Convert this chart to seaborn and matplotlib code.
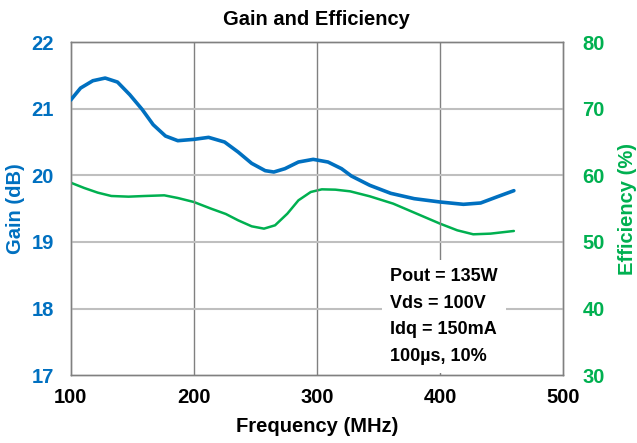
import pandas as pd
import matplotlib.pyplot as plt
import seaborn as sns

# gain (dB)
gain_freq = [100, 108, 118, 128, 138, 148, 158, 167, 177, 187, 200, 212, 225, 236,
             247, 258, 265, 274, 285, 297, 309, 320, 328, 343, 360, 379, 400, 419,
             433, 446, 460]
gain_db = [21.13, 21.31, 21.42, 21.46, 21.40, 21.21, 20.99, 20.76, 20.59, 20.52, 20.54,
           20.57, 20.50, 20.35, 20.18, 20.07, 20.05, 20.10, 20.20, 20.24, 20.20, 20.10,
           19.99, 19.85, 19.73, 19.65, 19.60, 19.565, 19.585, 19.675, 19.77]

# efficiency (%)
eff_freq = [100, 111, 122, 133, 147, 160, 176, 187, 200, 214, 226, 236, 247, 257, 266,
            276, 285, 295, 304, 315, 327, 343, 362, 381, 400, 414, 427, 441, 460]
eff_pct = [58.9, 58.1, 57.4, 56.9, 56.8, 56.9, 57.0, 56.6, 56.0, 55.0, 54.2, 53.25,
           52.35, 52.0, 52.5, 54.25, 56.25, 57.5, 57.9, 57.85, 57.6, 56.85, 55.75, 54.25,
           52.75, 51.75, 51.15, 51.25, 51.65]

x_ticks = [100, 200, 300, 400, 500]
gain_ticks = [17, 18, 19, 20, 21, 22]
eff_ticks = [30, 40, 50, 60, 70, 80]

blue = '#0070C0'
green = '#00B050'

sns.set_style('white')
plt.rcParams['font.family'] = ['Liberation Sans', 'DejaVu Sans']
plt.rcParams['font.weight'] = 'bold'
plt.rcParams['text.color'] = 'black'
plt.rcParams['axes.labelcolor'] = 'black'
plt.rcParams['xtick.color'] = 'black'

df_gain = pd.DataFrame({'freq': gain_freq, 'gain': gain_db})
df_eff = pd.DataFrame({'freq': eff_freq, 'eff': eff_pct})

fig, ax = plt.subplots(figsize=(6.37, 4.43), dpi=100)
fig.subplots_adjust(left=0.111, right=0.884, top=0.905, bottom=0.153)

ax2 = ax.twinx()

# grille : verticales foncées, horizontales claires
for xv in x_ticks[1:-1]:
    ax.axvline(xv, color='#808080', lw=1, zorder=0)
for yv in gain_ticks[1:-1]:
    ax.axhline(yv, color='#BFBFBF', lw=1.5, zorder=0)

sns.lineplot(data=df_gain, x='freq', y='gain', ax=ax, color=blue, lw=2.6, zorder=3)
sns.lineplot(data=df_eff, x='freq', y='eff', ax=ax2, color=green, lw=1.8, zorder=3)

ax.set_xlim(100, 500)
ax.set_ylim(17, 22)
ax2.set_ylim(30, 80)
ax.set_xticks(x_ticks)
ax.set_yticks(gain_ticks)
ax2.set_yticks(eff_ticks)

ax.tick_params(axis='x', labelsize=14.5, length=0, pad=9, labelcolor='black')
ax.tick_params(axis='y', labelsize=14.5, length=0, pad=12, colors=blue)
ax2.tick_params(axis='y', labelsize=14.5, length=0, pad=14, colors=green)
for lab in ax.get_xticklabels() + ax.get_yticklabels() + ax2.get_yticklabels():
    lab.set_fontweight('bold')

for a in (ax, ax2):
    for s in a.spines.values():
        s.set_color('#808080')
        s.set_linewidth(1)

ax.set_title('Gain and Efficiency', fontsize=14.5, fontweight='bold', pad=12.5, color='black')
ax.set_xlabel('Frequency (MHz)', fontsize=14.5, fontweight='bold', labelpad=7.5, color='black')
ax.set_ylabel('Gain (dB)', fontsize=14.5, fontweight='bold', color=blue)
ax2.set_ylabel('Efficiency (%)', fontsize=14.5, fontweight='bold', color=green)
ax.yaxis.set_label_coords(-0.093, 0.5)
ax2.yaxis.set_label_coords(1.112, 0.5)

ax.set_zorder(ax2.get_zorder() + 1)
ax.patch.set_visible(False)

ax.text(359.5, 17.15, 'Pout = 135W\nVds = 100V\nIdq = 150mA\n100\u00b5s, 10%',
        fontsize=13, fontweight='bold', linespacing=1.75, va='bottom', ha='left',
        color='black',
        bbox=dict(boxstyle='square,pad=0.45', facecolor='white', edgecolor='none'),
        zorder=5)

plt.savefig('out.png', dpi=100)
